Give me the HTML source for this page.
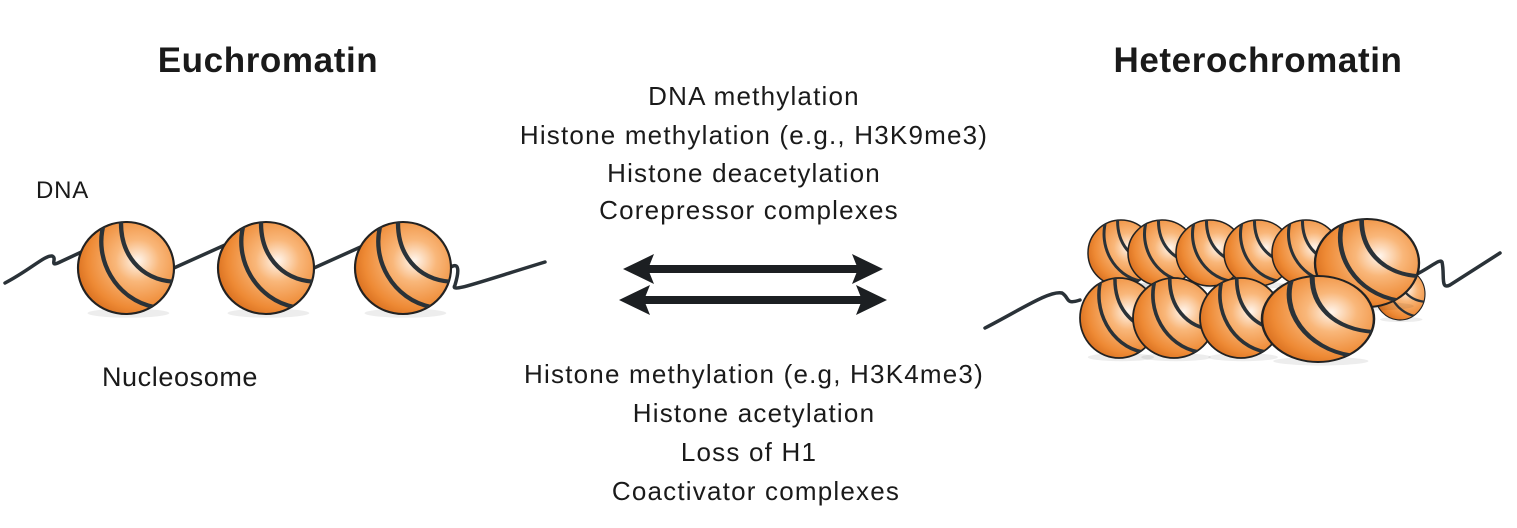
<!DOCTYPE html>
<html><head><meta charset="utf-8"><style>
html,body{margin:0;padding:0;background:#fff;}
svg{display:block;}
text{font-family:"Liberation Sans",sans-serif;fill:#1a1a1a;}
</style></head><body>
<svg width="1517" height="528" viewBox="0 0 1517 528" xmlns="http://www.w3.org/2000/svg">
<defs>
<radialGradient id="g" cx="0.62" cy="0.42" r="0.65">
<stop offset="0" stop-color="#fff6ee"/><stop offset="0.35" stop-color="#f9b77a"/><stop offset="0.8" stop-color="#ee8a35"/><stop offset="1" stop-color="#d97020"/>
</radialGradient>
<clipPath id="c"><circle cx="0" cy="0" r="1"/></clipPath>
<symbol id="n" viewBox="-1 -1 2 2" preserveAspectRatio="none" overflow="visible">
<ellipse cx="0.05" cy="0.98" rx="0.85" ry="0.1" fill="#000" opacity="0.07"/>
<circle r="1" fill="url(#g)" stroke="#222" stroke-width="0.045"/>
<g clip-path="url(#c)" fill="none" stroke="#2a3238" stroke-width="0.09">
<path d="M-0.45,-1 C-0.7,-0.2 -0.2,0.7 0.6,0.85"/>
<path d="M-0.1,-1.1 C-0.15,-0.3 0.3,0.25 1,0.3"/>
</g>
</symbol>
</defs>
<text x="268" y="72" font-size="35" font-weight="bold" text-anchor="middle" letter-spacing="0.6">Euchromatin</text>
<text x="1258" y="72" font-size="35" font-weight="bold" text-anchor="middle" letter-spacing="0.6">Heterochromatin</text>
<text x="36" y="198" font-size="24" letter-spacing="0.8">DNA</text>
<text x="180" y="386" font-size="27" text-anchor="middle" letter-spacing="0.6">Nucleosome</text>
<g font-size="26" text-anchor="middle" letter-spacing="1.2">
<text x="754" y="105">DNA methylation</text>
<text x="754" y="144">Histone methylation (e.g., H3K9me3)</text>
<text x="744" y="182">Histone deacetylation</text>
<text x="749" y="219">Corepressor complexes</text>
<text x="754" y="383">Histone methylation (e.g, H3K4me3)</text>
<text x="754" y="422">Histone acetylation</text>
<text x="749" y="461">Loss of H1</text>
<text x="756" y="500">Coactivator complexes</text>
</g>
<!-- DNA euchromatin -->
<path d="M5,283 C30,270 45,255 52,256 C58,258 48,268 60,262 L90,248 M165,272 L225,245 M305,272 L365,245 M445,272 C455,262 462,262 455,285 C450,293 470,285 545,262" fill="none" stroke="#2a3238" stroke-width="3.5" stroke-linecap="round"/>
<use href="#n" x="78" y="222" width="96" height="92"/>
<use href="#n" x="218" y="222" width="96" height="92"/>
<use href="#n" x="355" y="222" width="96" height="92"/>
<!-- arrows -->
<g fill="#1c1f22">
<rect x="645" y="265" width="215" height="8"/>
<path d="M623,269 L654,254 L648,269 L654,284 Z"/>
<path d="M883,269 L852,254 L858,269 L852,284 Z"/>
<rect x="642" y="296" width="222" height="8"/>
<path d="M619,300 L650,285 L644,300 L650,315 Z"/>
<path d="M887,300 L856,285 L862,300 L856,315 Z"/>
</g>
<!-- heterochromatin -->
<path d="M985,328 C1020,310 1050,290 1062,293 C1070,298 1065,305 1080,300 M1415,275 C1430,268 1440,258 1442,262 C1445,275 1440,290 1450,285 L1500,253" fill="none" stroke="#2a3238" stroke-width="3.5" stroke-linecap="round"/>
<use href="#n" x="1375" y="268" width="50" height="52"/>
<use href="#n" x="1088" y="220" width="66" height="66"/>
<use href="#n" x="1128" y="220" width="68" height="66"/>
<use href="#n" x="1176" y="220" width="68" height="66"/>
<use href="#n" x="1224" y="220" width="68" height="66"/>
<use href="#n" x="1272" y="220" width="68" height="66"/>
<use href="#n" x="1315" y="219" width="104" height="88"/>
<use href="#n" x="1080" y="278" width="78" height="80"/>
<use href="#n" x="1133" y="278" width="82" height="80"/>
<use href="#n" x="1200" y="278" width="82" height="80"/>
<use href="#n" x="1262" y="276" width="112" height="86"/>
</svg>
</body></html>
